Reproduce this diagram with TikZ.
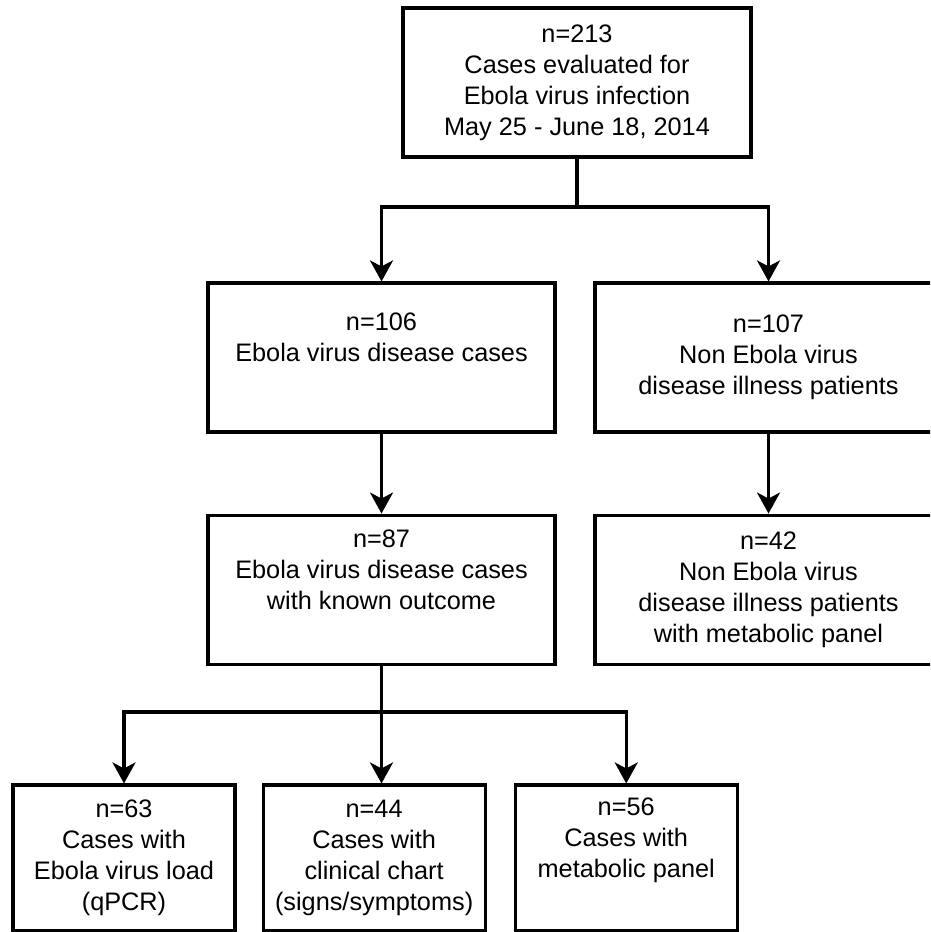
\documentclass[tikz,border=0pt]{standalone}
\usepackage{fontspec}
\setmainfont{Liberation Sans}
\usepackage{tikz}
\usetikzlibrary{arrows.meta, positioning}

\begin{document}
\begin{tikzpicture}[
    x=0.02cm, y=-0.02cm,
    box/.style={rectangle, draw, line width=1.8pt, minimum width=6.94cm,
                minimum height=2.98cm, align=center, inner sep=0pt,
                font=\fontsize{14.4}{17.6}\selectfont},
    smallbox/.style={box, minimum width=4.44cm, minimum height=2.92cm},
    arrow/.style={-{Stealth[length=4.2mm, width=4.6mm, inset=1.2mm]}, line width=1.8pt},
]
\clip (0,0) rectangle (930,932);

\node[box, minimum width=6.96cm] (screened) at (577,82.5)
    {n=213\\Cases evaluated for\\Ebola virus infection\\May 25 - June 18, 2014};
\node[box] (evd) at (381.5,357.5)
    {n=106\\Ebola virus disease cases\\\strut};
\node[box] (nonevd) at (768.5,357.5)
    {n=107\\Non Ebola virus\\disease illness patients};
\node[box, below=1.6cm of evd] (outcome)
    {n=87\\Ebola virus disease cases\\with known outcome\\\strut};
\node[box, below=1.6cm of nonevd] (nonmeta)
    {n=42\\Non Ebola virus\\disease illness patients\\with metabolic panel};
\node[smallbox] (vload) at (124,858)
    {n=63\\Cases with\\Ebola virus load\\(qPCR)};
\node[smallbox, right=0.5cm of vload] (chart)
    {n=44\\Cases with\\clinical chart\\(signs/symptoms)};
\node[smallbox, right=0.54cm of chart] (meta)
    {n=56\\Cases with\\metabolic panel\\\strut};

\coordinate (fork1) at (579,207);
\coordinate (fork2) at (380,712);

\draw[arrow] (screened.south) -- (screened.south |- fork1) -| (evd.north);
\draw[arrow] (screened.south |- fork1) -| (nonevd.north);
\draw[arrow] (evd) -- (outcome);
\draw[arrow] (nonevd) -- (nonmeta);
\draw[arrow] (outcome.south) -- (outcome.south |- fork2) -| (vload.north);
\draw[arrow] (outcome.south |- fork2) -| (meta.north);
\draw[arrow] (outcome.south) -- (outcome.south |- chart.north);
\end{tikzpicture}
\end{document}
